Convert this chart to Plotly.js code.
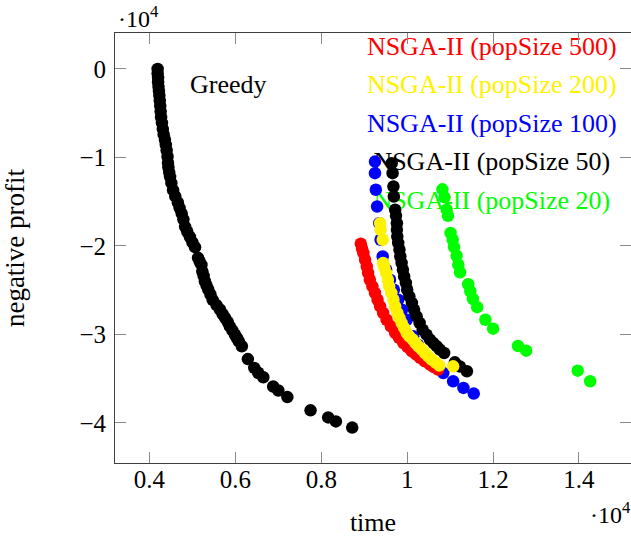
<!DOCTYPE html>
<html><head><meta charset="utf-8">
<script src="https://cdn.plot.ly/plotly-3.0.1.min.js"></script>
<style>html,body{margin:0;padding:0;background:#fff}</style>
</head><body><div id="chart" style="width:631px;height:537px"></div>
<script>
// values in units of 10^4
const greedyTime = [0.419,0.419,0.420,0.420,0.421,0.422,0.423,0.424,0.425,0.426,0.427,0.429,0.431,0.433,0.436,0.438,0.440,0.442,0.443,0.444,0.446,0.448,0.451,0.455,0.460,0.466,0.470,0.475,0.479,0.483,0.488,0.494,0.500,0.506,0.513,0.517,0.521,0.523,0.526,0.529,0.533,0.537,0.542,0.547,0.556,0.564,0.570,0.576,0.582,0.587,0.593,0.599,0.604,0.608,0.615,0.629,0.644,0.653,0.665,0.688,0.700,0.721,0.775,0.816,0.834,0.872];
const greedyProfit = [0.000,-0.050,-0.100,-0.150,-0.200,-0.250,-0.300,-0.360,-0.420,-0.480,-0.545,-0.610,-0.680,-0.740,-0.800,-0.860,-0.920,-0.990,-1.060,-1.110,-1.170,-1.220,-1.290,-1.370,-1.440,-1.510,-1.570,-1.635,-1.700,-1.785,-1.840,-1.900,-1.960,-2.015,-2.135,-2.180,-2.215,-2.290,-2.340,-2.400,-2.450,-2.495,-2.550,-2.610,-2.670,-2.720,-2.770,-2.815,-2.860,-2.910,-2.955,-3.005,-3.045,-3.080,-3.135,-3.280,-3.380,-3.435,-3.485,-3.590,-3.635,-3.710,-3.860,-3.940,-3.985,-4.055];

const pop500Time = [0.892,0.895,0.898,0.902,0.906,0.909,0.913,0.919,0.925,0.931,0.937,0.944,0.952,0.962,0.972,0.981,0.991,1.001,1.011,1.021,1.030,1.041,1.053,1.062,1.072];
const pop500Profit = [-1.976,-2.033,-2.081,-2.157,-2.233,-2.307,-2.383,-2.458,-2.533,-2.609,-2.684,-2.759,-2.835,-2.910,-2.985,-3.041,-3.098,-3.145,-3.193,-3.230,-3.267,-3.305,-3.343,-3.371,-3.399];

const pop200Time = [0.937,0.938,0.943,0.944,0.947,0.951,0.955,0.958,0.963,0.968,0.972,0.977,0.982,0.987,0.993,0.999,1.005,1.013,1.019,1.026,1.034,1.041,1.049,1.057,1.066,1.075,1.107];
const pop200Profit = [-1.743,-1.818,-1.931,-2.194,-2.247,-2.307,-2.383,-2.458,-2.533,-2.609,-2.684,-2.759,-2.816,-2.872,-2.928,-2.985,-3.023,-3.060,-3.098,-3.136,-3.173,-3.211,-3.249,-3.286,-3.320,-3.354,-3.362];

const pop100Time = [0.925,0.925,0.927,0.930,0.935,0.938,0.943,0.951,0.960,0.969,0.979,0.988,0.999,1.014,1.025,1.038,1.061,1.084,1.107,1.131,1.155];
const pop100Profit = [-1.047,-1.178,-1.366,-1.555,-1.743,-1.931,-2.120,-2.270,-2.383,-2.496,-2.609,-2.722,-2.835,-3.023,-3.117,-3.211,-3.362,-3.437,-3.531,-3.606,-3.670];

const pop50Time = [0.964,0.966,0.968,0.969,0.972,0.974,0.976,0.976,0.977,0.979,0.982,0.984,0.987,0.990,0.993,0.997,1.000,1.005,1.011,1.016,1.022,1.029,1.036,1.045,1.053,1.061,1.069,1.076,1.086,1.111,1.123,1.139];
const pop50Profit = [-1.065,-1.178,-1.329,-1.442,-1.592,-1.660,-1.743,-1.818,-1.894,-1.968,-2.044,-2.120,-2.194,-2.270,-2.346,-2.420,-2.496,-2.571,-2.646,-2.722,-2.797,-2.872,-2.948,-3.004,-3.060,-3.099,-3.136,-3.173,-3.211,-3.317,-3.365,-3.418];

const pop20Time = [1.082,1.087,1.092,1.095,1.101,1.106,1.109,1.115,1.119,1.123,1.142,1.147,1.153,1.163,1.182,1.200,1.258,1.277,1.397,1.426];
const pop20Profit = [-1.361,-1.451,-1.592,-1.660,-1.855,-1.931,-2.014,-2.112,-2.213,-2.298,-2.434,-2.513,-2.601,-2.693,-2.835,-2.936,-3.132,-3.185,-3.411,-3.531];

const seriesNames = ['NSGA-II (popSize 500)','NSGA-II (popSize 200)','NSGA-II (popSize 100)','NSGA-II (popSize 50)','NSGA-II (popSize 20)'];
const seriesColors = ['#ff0000','#fff200','#0000ff','#000000','#00ff00'];
const greedyLabel = 'Greedy';

const xTickVals = [0.4,0.6,0.8,1,1.2,1.4];
const xTickText = ['0.4','0.6','0.8','1','1.2','1.4'];
const yTickVals = [0,-1,-2,-3,-4];
const yTickText = ['0','\u22121','\u22122','\u22123','\u22124'];

// label anchor positions (layout)
const labelX = 1.197;
const labelY = [0.237,-0.200,-0.637,-1.073,-1.511];

const FONT = 'Liberation Serif';
const MS = 12.5;
function pts(x,y,color,name){
  return {type:'scatter',mode:'markers',x:x,y:y,name:name,
    marker:{color:color,size:MS,line:{width:0}},cliponaxis:true,hoverinfo:'skip'};
}
const traces = [
  {type:'scatter',mode:'text',x:seriesNames.map(()=>labelX),y:labelY,text:seriesNames,
   textposition:'middle center',textfont:{family:FONT,size:26,color:seriesColors},cliponaxis:false,hoverinfo:'skip'},
  {type:'scatter',mode:'text',x:[0.5835],y:[-0.198],text:[greedyLabel],
   textposition:'middle center',textfont:{family:FONT,size:26,color:'#000'},cliponaxis:false,hoverinfo:'skip'},
  pts(greedyTime,greedyProfit,'#000000','Greedy'),
  pts(pop100Time,pop100Profit,seriesColors[2],seriesNames[2]),
  pts(pop50Time,pop50Profit,seriesColors[3],seriesNames[3]),
  pts(pop500Time,pop500Profit,seriesColors[0],seriesNames[0]),
  pts(pop200Time,pop200Profit,seriesColors[1],seriesNames[1]),
  pts(pop20Time,pop20Profit,seriesColors[4],seriesNames[4]),
  {type:'scatter',mode:'markers',x:[1],y:[0],yaxis:'y2',marker:{opacity:0},showlegend:false,hoverinfo:'skip'}
];
const yRange = [-4.455,0.4066];
const layout = {
  width:631,height:537,margin:{l:115,r:0,t:33,b:73.5,pad:0},
  paper_bgcolor:'#ffffff',plot_bgcolor:'#ffffff',showlegend:false,
  font:{family:FONT,size:25,color:'#000'},
  xaxis:{range:[0.3197,1.5211],tickvals:xTickVals,ticktext:xTickText,
    ticks:'inside',ticklen:11,tickwidth:1,tickcolor:'#8a8a8a',ticklabelstandoff:-6,
    showline:true,linecolor:'#404040',linewidth:1,mirror:'ticks',
    showgrid:false,zeroline:false,tickfont:{family:FONT,size:25,color:'#000'},
    title:{text:'time',font:{family:FONT,size:26,color:'#000'},standoff:20}},
  yaxis:{range:yRange,tickvals:yTickVals,ticktext:yTickText,
    ticks:'inside',ticklen:11,tickwidth:1,tickcolor:'#8a8a8a',ticklabelstandoff:3,
    showline:true,linecolor:'#404040',linewidth:1,
    showgrid:false,zeroline:false,tickfont:{family:FONT,size:25,color:'#000'},
    title:{text:'negative profit',font:{family:FONT,size:27,color:'#000'},standoff:46}},
  yaxis2:{range:yRange,overlaying:'y',side:'right',tickvals:yTickVals,showticklabels:false,
    ticks:'inside',ticklen:11,tickwidth:1,tickcolor:'#8a8a8a',showline:false,showgrid:false,zeroline:false},
  annotations:[
    {xref:'paper',yref:'paper',x:0.002,y:1.0,xanchor:'left',yanchor:'bottom',yshift:-1,showarrow:false,
     text:'\u00b710<sup>4</sup>',font:{family:FONT,size:24,color:'#000'}},
    {xref:'paper',yref:'paper',x:1.004,y:-0.0775,xanchor:'right',yanchor:'top',showarrow:false,
     text:'\u00b710<sup>4</sup>',font:{family:FONT,size:24,color:'#000'}}
  ]
};
Plotly.newPlot('chart',traces,layout,{staticPlot:true,displayModeBar:false});
</script></body></html>
